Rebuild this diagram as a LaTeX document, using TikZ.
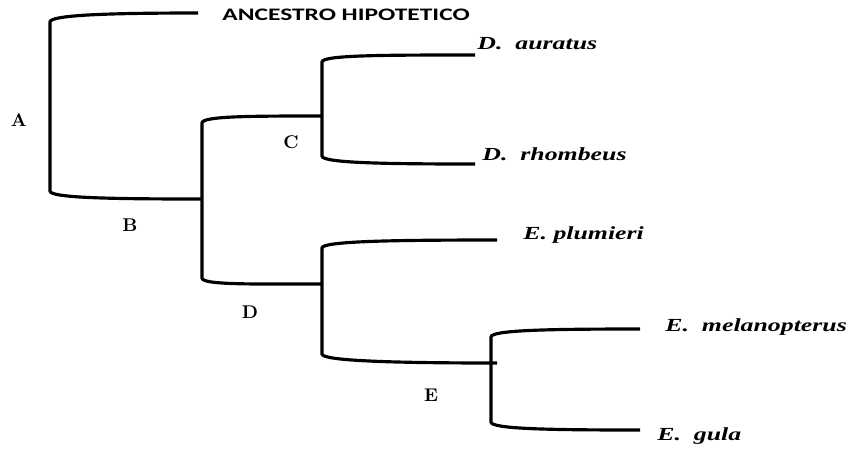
\documentclass[tikz,border=0pt]{standalone}
\usepackage{fontspec}
\usepackage{tikz}
\usetikzlibrary{positioning}
\newfontfamily\taxonfont[FakeStretch=1.4]{Liberation Serif}
\newfontfamily\rootfont[FakeStretch=1.45]{Carlito}

\begin{document}
\begin{tikzpicture}[x=0.02cm,y=-0.02cm,
  branch/.style={line width=1.8pt},
  taxon/.style={anchor=west,inner sep=0pt,font=\taxonfont\bfseries\itshape\fontsize{10.5}{12}\selectfont},
  clade/.style={inner sep=0pt,font=\bfseries\fontsize{10.5}{12}\selectfont}]
\useasboundingbox (0,0) rectangle (851,451);

% Corners of the brackets
\coordinate (aTop) at (50,22);   \coordinate (aBot) at (50,191);
\coordinate (bdTop) at (202,123); \coordinate (bdBot) at (202,278);
\coordinate (cTop) at (322,62);  \coordinate (cBot) at (322,156);
\coordinate (dTop) at (322,248); \coordinate (dBot) at (322,354);
\coordinate (eTop) at (491,337); \coordinate (eBot) at (491,422);

% Branch ends
\coordinate (anc) at (198,13);
\coordinate (bJoin) at (202,199);
\coordinate (cJoin) at (322,116);
\coordinate (dJoin) at (322,284);
\coordinate (eJoin) at (497,363);
\coordinate (aur) at (475,55);
\coordinate (rho) at (475,164);
\coordinate (plu) at (497,240);
\coordinate (mel) at (640,329);
\coordinate (gul) at (640,430);

% Brackets
\draw[branch] (anc) .. controls +(-90,0) and +(0,-7) .. (aTop) -- (aBot)
  .. controls +(0,7) and +(-90,0) .. (bJoin);
\draw[branch] (cJoin) .. controls +(-70,0) and +(0,-7) .. (bdTop) -- (bdBot)
  .. controls +(0,7) and +(-70,0) .. (dJoin);
\draw[branch] (aur) .. controls +(-90,0) and +(0,-7) .. (cTop) -- (cBot)
  .. controls +(0,7) and +(-90,0) .. (rho);
\draw[branch] (plu) .. controls +(-100,0) and +(0,-7) .. (dTop) -- (dBot)
  .. controls +(0,7) and +(-100,0) .. (eJoin);
\draw[branch] (mel) .. controls +(-90,0) and +(0,-7) .. (eTop) -- (eBot)
  .. controls +(0,7) and +(-90,0) .. (gul);

% Names
\node[anchor=west,inner sep=0pt,font=\rootfont\bfseries\fontsize{10}{12}\selectfont] (root) at (222,15) {ANCESTRO HIPOTETICO};
\node[taxon] (auratus) at (477,44) {D.\ \ auratus};
\node[taxon] (rhombeus) at (482,154) {D.\ \ rhombeus};
\node[taxon] (plumieri) at (523,235) {E.\ plumieri};
\node[taxon] (melanopterus) at (665,327) {E.\ \ melanopterus};
\node[taxon] (gula) at (657,436) {E.\ \ gula};

% Clade letters
\node[clade] (lA) at (19,120) {A};
\node[clade] (lB) at (130,225) {B};
\node[clade] (lC) at (291,142) {C};
\node[clade] (lD) at (250,312) {D};
\node[clade] (lE) at (431,395) {E};
\end{tikzpicture}
\end{document}
